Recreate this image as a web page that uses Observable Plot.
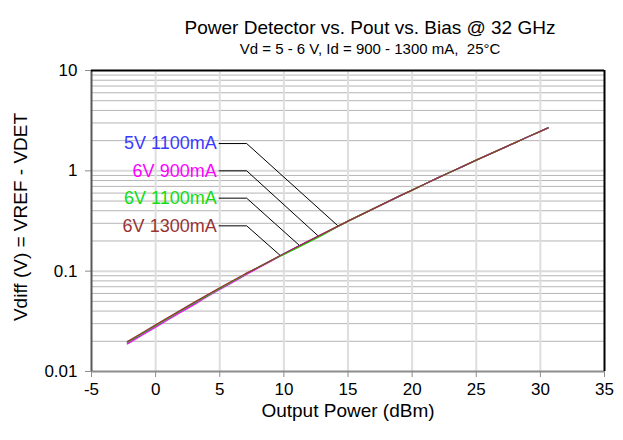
<!DOCTYPE html>
<html><head><meta charset="utf-8">
<script src="https://cdn.jsdelivr.net/npm/d3@7"></script>
<script src="https://cdn.jsdelivr.net/npm/@observablehq/plot@0.6"></script>
<style>body{margin:0;background:#fff;} svg text{white-space:pre;}</style>
</head><body><div id="chart"></div>
<script>
const title = "Power Detector vs. Pout vs. Bias @ 32 GHz";
const subtitle = "Vd = 5 - 6 V, Id = 900 - 1300 mA,  25°C";
const xLabel = "Output Power (dBm)";
const yLabel = "Vdiff (V) = VREF - VDET";
const xTicks = [-5, 0, 5, 10, 15, 20, 25, 30, 35];
const yTicks = [0.01, 0.1, 1, 10];
const yTickLabels = ["0.01", "0.1", "1", "10"];

const seriesNames = ["5V 1100mA", "6V 900mA", "6V 1100mA", "6V 1300mA"];
const seriesColors = ["#3a3aff", "#ff00ff", "#11dd11", "#993333"];

// Output power (dBm)
const pout = [-2.2, -2, -1, 0, 1, 2, 3, 4, 5, 6, 7, 8, 9, 10, 11, 12, 13, 14, 15, 16,
  17, 18, 19, 20, 21, 22, 23, 24, 25, 26, 27, 28, 29, 30, 30.6];
// Vdiff (V) per bias
const v5V1100 = [0.01939, 0.02008, 0.02391, 0.02848, 0.03390, 0.04029, 0.04778, 0.05650, 0.06670, 0.07853,
  0.09229, 0.1093, 0.1278, 0.1491, 0.1736, 0.2018, 0.2344, 0.2720, 0.3152, 0.3642,
  0.4207, 0.4853, 0.5592, 0.6433, 0.7396, 0.8492, 0.9739, 1.1156, 1.2764, 1.4588,
  1.6672, 1.9033, 2.1727, 2.4774, 2.6806];
const v6V900 = [0.01885, 0.01951, 0.02323, 0.02768, 0.03294, 0.03915, 0.04643, 0.05564, 0.06569, 0.07734,
  0.09182, 0.1077, 0.1259, 0.1481, 0.1724, 0.2004, 0.2328, 0.2701, 0.3152, 0.3642,
  0.4207, 0.4853, 0.5592, 0.6433, 0.7396, 0.8492, 0.9739, 1.1156, 1.2764, 1.4588,
  1.6672, 1.9033, 2.1727, 2.4774, 2.6806];
const v6V1100 = [0.01949, 0.02018, 0.02403, 0.02863, 0.03407, 0.04050, 0.04802, 0.05678, 0.06703, 0.07892,
  0.09322, 0.1093, 0.1278, 0.1469, 0.1693, 0.1968, 0.2285, 0.2693, 0.3152, 0.3642,
  0.4207, 0.4853, 0.5592, 0.6433, 0.7396, 0.8492, 0.9739, 1.1156, 1.2764, 1.4588,
  1.6672, 1.9033, 2.1727, 2.4774, 2.6806];
const v6V1300 = [0.01983, 0.02052, 0.02444, 0.02912, 0.03465, 0.04119, 0.04884, 0.05775, 0.06818, 0.08027,
  0.09434, 0.1093, 0.1278, 0.1491, 0.1736, 0.2018, 0.2344, 0.2720, 0.3152, 0.3642,
  0.4207, 0.4853, 0.5592, 0.6433, 0.7396, 0.8492, 0.9739, 1.1156, 1.2764, 1.4588,
  1.6672, 1.9033, 2.1727, 2.4774, 2.6806];
const seriesValues = [v5V1100, v6V900, v6V1100, v6V1300];

// callout anchors (data units): label level, label end, kink, point on curve
const calloutLabelY = [1.87, 1.0, 0.534, 0.283];
const calloutTextX = [4.76, 4.76, 4.76, 4.76];
const calloutStartX = [4.95, 4.95, 4.95, 4.95];
const calloutKinkX = [7.1, 7.1, 7.1, 7.1];
const calloutPointX = [14.2, 12.65, 11.2, 9.7];
const calloutPointY = [0.284, 0.226, 0.181, 0.144];

const series = seriesNames.map((name, i) => ({
  name, color: seriesColors[i],
  data: pout.map((x, j) => ({x, y: seriesValues[i][j]}))
}));

const yMinor = [];
for (const d of [0.01, 0.1, 1]) for (let k = 2; k <= 9; k++) yMinor.push(+(d * k).toPrecision(3));

const font = "'Liberation Sans', Arial, sans-serif";
const marks = [
  Plot.ruleY(yMinor, {stroke: "#b5b5b5", strokeWidth: 1}),
  Plot.ruleY([0.1, 1], {stroke: "#dadada", strokeWidth: 2}),
  Plot.ruleX(xTicks.slice(1, -1), {stroke: "#dedede", strokeWidth: 2}),
  Plot.axisX({ticks: xTicks, tickFormat: d => String(d), tickSize: 6, tickPadding: 5,
    stroke: "#8c8c8c", fill: "black", fontSize: 17, label: null}),
  Plot.axisY({ticks: yTicks, tickFormat: d => yTickLabels[yTicks.indexOf(d)], tickSize: 6, tickPadding: 8,
    stroke: "#8c8c8c", fill: "black", fontSize: 17, label: null}),
];
series.forEach((s, i) => {
  const pts = [
    {x: calloutStartX[i], y: calloutLabelY[i]},
    {x: calloutKinkX[i], y: calloutLabelY[i]},
    {x: calloutPointX[i], y: calloutPointY[i]}
  ];
  marks.push(Plot.line(pts, {x: "x", y: "y", stroke: "black", strokeWidth: 1}));
  marks.push(Plot.text([s.name], {x: calloutTextX[i], y: calloutLabelY[i], text: d => d,
    textAnchor: "end", fill: s.color, fontSize: 18}));
});
series.forEach(s => {
  marks.push(Plot.line(s.data, {x: "x", y: "y", stroke: s.color, strokeWidth: 1.3}));
});
marks.push(
  Plot.ruleY([0.01], {stroke: "#8c8c8c", strokeWidth: 2}),
  Plot.ruleX([-5], {stroke: "#595959", strokeWidth: 2}),
  Plot.ruleY([10], {stroke: "black", strokeWidth: 2}),
  Plot.ruleX([35], {stroke: "black", strokeWidth: 2}),
  Plot.text([title], {text: d => d, frameAnchor: "top", dx: 22, dy: -50, fontSize: 19}),
  Plot.text([subtitle], {text: d => d, frameAnchor: "top", dx: 22, dy: -27, fontSize: 15}),
  Plot.text([xLabel], {text: d => d, frameAnchor: "bottom", dy: 45, fontSize: 19}),
  Plot.text([yLabel], {text: d => d, frameAnchor: "left", textAnchor: "middle", rotate: -90,
    dx: -71, dy: -4, fontSize: 19})
);

const chart = Plot.plot({
  width: 623, height: 440,
  marginLeft: 91, marginRight: 19, marginTop: 70, marginBottom: 69,
  style: {fontFamily: font, background: "white", color: "black"},
  x: {domain: [-5, 35]},
  y: {type: "log", domain: [0.01, 10]},
  marks
});
document.getElementById("chart").appendChild(chart);
</script>
</body></html>
